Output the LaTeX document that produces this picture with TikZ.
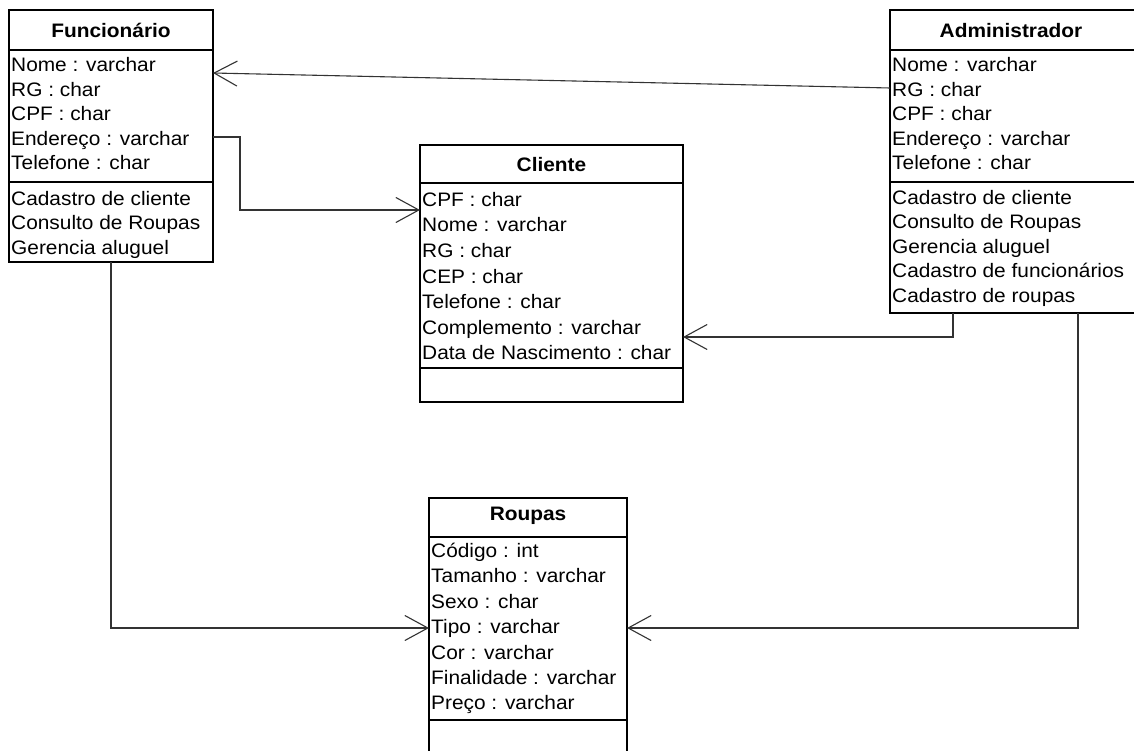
\documentclass[tikz,border=0pt]{standalone}
\usepackage{fontspec}
\setmainfont{Liberation Sans}[FakeStretch=1.07]
\usetikzlibrary{arrows.meta}
\begin{document}
\begin{tikzpicture}[x=1pt,y=-1pt,
  box/.style={draw=black,line width=2pt,fill=white,inner sep=0pt,outer sep=0pt,rectangle},
  sepline/.style={line width=1.6pt},
  conn/.style={line width=1.1pt,draw=black!80},
  tip/.style={-{Straight Barb[length=23pt,width=25pt,line width=1.1pt]}},
  attr/.style={anchor=base west,inner sep=0pt,font=\fontsize{19.5}{20}\selectfont},
  ttl/.style={anchor=base,inner sep=0pt,font=\bfseries\fontsize{19.5}{20}\selectfont}]
\useasboundingbox (0,0) rectangle (1134,751);
\clip (0,0) rectangle (1134,751);
\fill[white] (0,0) rectangle (1134,751);

% boxes
\node[box,minimum width=204pt,minimum height=252pt] (func) at (111,136) {};
\node[box,minimum width=260pt,minimum height=303pt] (admin) at (1020,161.5) {};
\node[box,minimum width=263pt,minimum height=257pt] (cli) at (551.5,273.5) {};
\node[box,minimum width=198pt,minimum height=282pt] (roupas) at (528,639) {};

% separators
\draw[sepline] (func.west |- 0,50) -- (func.east |- 0,50);
\draw[sepline] (func.west |- 0,182) -- (func.east |- 0,182);
\draw[sepline] (admin.west |- 0,50) -- (admin.east |- 0,50);
\draw[sepline] (admin.west |- 0,182) -- (admin.east |- 0,182);
\draw[sepline] (cli.west |- 0,183) -- (cli.east |- 0,183);
\draw[sepline] (cli.west |- 0,368) -- (cli.east |- 0,368);
\draw[sepline] (roupas.west |- 0,537) -- (roupas.east |- 0,537);
\draw[sepline] (roupas.west |- 0,720) -- (roupas.east |- 0,720);

% titles
\node[ttl] (tfunc) at (111,37.5) {Funcionário};
\node[ttl] (tadmin) at (1011,37.5) {Administrador};
\node[ttl] (tcli) at (551.5,172) {Cliente};
\node[ttl] (troupas) at (528,520) {Roupas};

% Funcionario
\foreach \t [count=\i from 0] in {Nome : varchar,RG : char,CPF : char,Endereço : varchar,Telefone : char}
  \node[attr] (fa\i) at (11,71.5+24.6*\i) {\t};
\foreach \t [count=\i from 0] in {Cadastro de cliente,Consulto de Roupas,Gerencia aluguel}
  \node[attr] (fm\i) at (11,205.5+24.5*\i) {\t};

% Administrador
\foreach \t [count=\i from 0] in {Nome : varchar,RG : char,CPF : char,Endereço : varchar,Telefone : char}
  \node[attr] (aa\i) at (892,71.5+24.6*\i) {\t};
\foreach \t [count=\i from 0] in {Cadastro de cliente,Consulto de Roupas,Gerencia aluguel,Cadastro de funcionários,Cadastro de roupas}
  \node[attr] (am\i) at (892,204.5+24.4*\i) {\t};

% Cliente
\foreach \t [count=\i from 0] in {CPF : char,Nome : varchar,RG : char,CEP : char,Telefone : char,Complemento : varchar,Data de Nascimento : char}
  \node[attr] (ca\i) at (422,206.5+25.5*\i) {\t};

% Roupas
\foreach \t [count=\i from 0] in {Código : int,Tamanho : varchar,Sexo : char,Tipo : varchar,Cor : varchar,Finalidade : varchar,Preço : varchar}
  \node[attr] (ra\i) at (431,557.5+25.4*\i) {\t};

% connectors
\draw[conn,tip] (admin.west |- 0,88) -- (func.east |- 0,73);
\draw[conn,tip] (func.east |- 0,137) -- (240,137) -- (240,210) -- (cli.west |- 0,210);
\draw[conn,tip] (admin.south -| 953,0) -- (953,337) -- (cli.east |- 0,337);
\draw[conn,tip] (func.south -| 111,0) -- (111,628) -- (roupas.west |- 0,628);
\draw[conn,tip] (admin.south -| 1078,0) -- (1078,628) -- (roupas.east |- 0,628);
\end{tikzpicture}
\end{document}
